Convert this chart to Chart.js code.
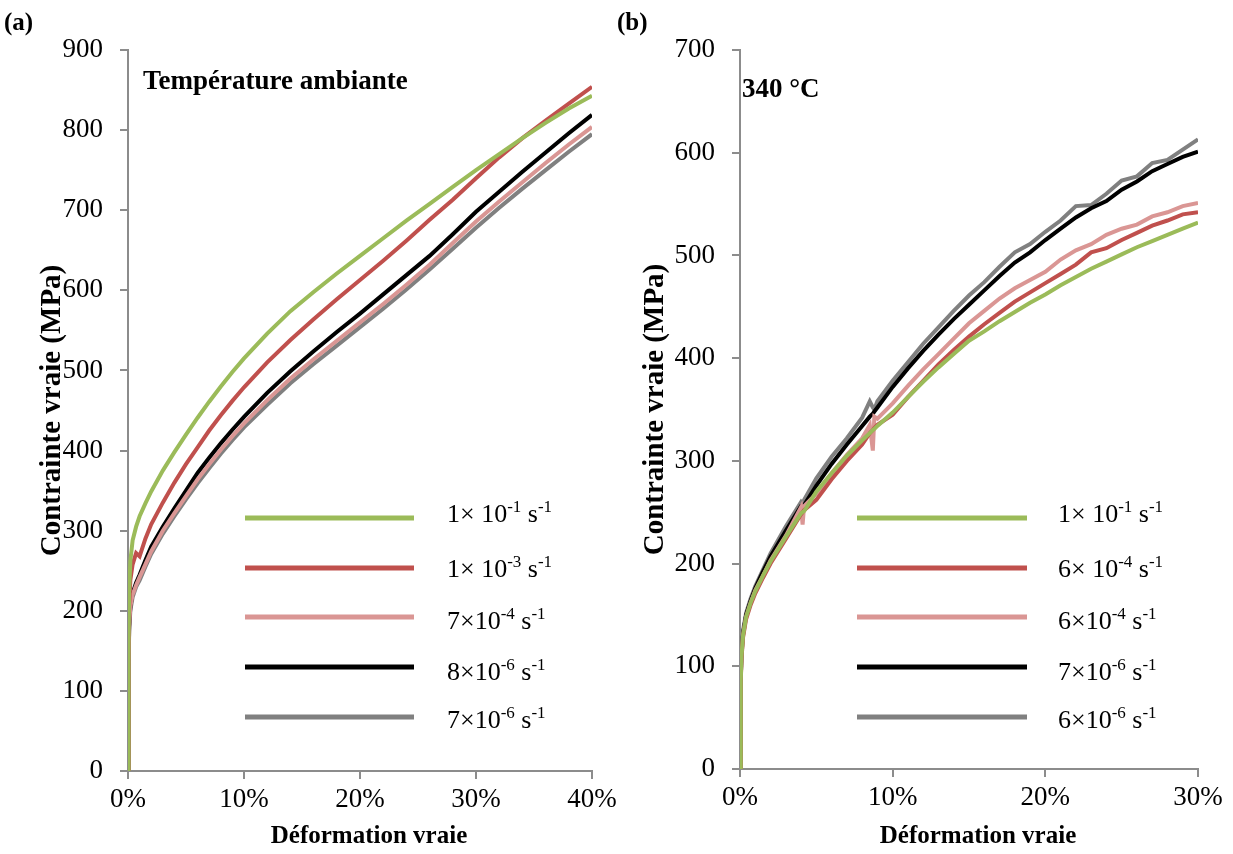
<!DOCTYPE html>
<html>
<head>
<meta charset="utf-8">
<script src="https://cdn.jsdelivr.net/npm/chart.js@4/dist/chart.umd.min.js"></script>
<style>
  body { margin: 0; background: #fff; width: 1233px; height: 854px; overflow: hidden; position: relative; }
  #leftChart { position: absolute; left: 0; top: 0; }
  #rightChart { position: absolute; left: 610px; top: 0; }
</style>
</head>
<body>
<canvas id="leftChart" width="630" height="854"></canvas>
<canvas id="rightChart" width="623" height="854"></canvas>
<script>
// ---- panel (a) : room temperature ----
const strainA = [0, 0.05, 0.1, 0.2, 0.4, 0.7, 1, 1.5, 2, 3, 4, 5, 6, 7, 8, 9, 10, 12, 14, 16, 18, 20, 22, 24, 26, 28, 30, 32, 34, 36, 38, 40];
const greenA = [0, 160, 225, 262, 288, 305, 318, 334, 349, 375, 398, 420, 441, 461, 480, 498, 515, 546, 574, 598, 621, 643, 665, 687, 708, 729, 750, 770, 790, 809, 827, 843];
const redA   = [0, 150, 205, 238, 258, 272, 268, 290, 308, 335, 360, 383, 404, 425, 444, 462, 479, 510, 538, 564, 589, 613, 637, 662, 688, 713, 740, 766, 790, 812, 833, 854];
const pinkA  = [0, 130, 180, 205, 220, 232, 242, 258, 274, 300, 322, 343, 364, 383, 401, 418, 434, 463, 490, 514, 537, 560, 583, 607, 632, 659, 686, 711, 735, 759, 782, 804];
const blackA = [0, 130, 180, 205, 222, 235, 245, 263, 280, 305, 328, 350, 372, 391, 409, 426, 442, 472, 499, 524, 548, 571, 595, 619, 643, 670, 698, 723, 748, 772, 796, 819];
const greyA  = [0, 125, 175, 200, 217, 230, 238, 255, 271, 296, 318, 339, 359, 378, 396, 413, 429, 457, 484, 508, 531, 554, 577, 601, 626, 652, 678, 703, 727, 750, 773, 795];
const labelsA = ['1× 10^{-1} s^{-1}', '1× 10^{-3} s^{-1}', '7×10^{-4} s^{-1}', '8×10^{-6} s^{-1}', '7×10^{-6} s^{-1}'];

// ---- panel (b) : 340 °C ----
const strainB = [0, 0.05, 0.1, 0.2, 0.4, 0.7, 1, 1.5, 2, 3, 4, 4.1, 4.2, 5, 6, 7, 8, 8.5, 8.7, 8.8, 9, 10, 11, 12, 13, 14, 15, 16, 17, 18, 19, 20, 21, 22, 23, 24, 25, 26, 27, 28, 29, 30];
const greenB = [0, 86, 110, 130, 148, 162, 173, 188, 202, 226, 249, 250, 251, 270, 288, 305, 320, 327, 330, 331, 334, 347, 362, 377, 391, 404, 417, 426, 436, 445, 454, 462, 471, 479, 487, 494, 501, 508, 514, 520, 526, 532];
const redB   = [0, 85, 108, 128, 146, 160, 171, 186, 200, 224, 248, 250, 252, 262, 282, 300, 316, 327, 330, 332, 335, 345, 362, 378, 394, 408, 421, 433, 444, 455, 464, 473, 482, 491, 503, 507, 515, 522, 529, 534, 540, 542];
const pinkB  = [0, 88, 110, 130, 148, 162, 174, 188, 203, 227, 255, 238, 256, 268, 288, 306, 322, 335, 310, 343, 341, 356, 373, 389, 404, 419, 434, 446, 458, 468, 476, 484, 496, 505, 511, 520, 526, 530, 538, 542, 548, 551];
const blackB = [0, 88, 112, 132, 150, 164, 176, 192, 207, 232, 256, 256, 257, 276, 297, 316, 334, 343, 346, 348, 352, 372, 390, 407, 423, 438, 452, 466, 480, 493, 503, 515, 526, 537, 546, 553, 564, 572, 582, 589, 596, 601];
const greyB  = [0, 90, 115, 135, 152, 166, 178, 194, 210, 236, 260, 258, 262, 283, 304, 322, 342, 358, 352, 350, 358, 378, 396, 414, 430, 446, 461, 474, 489, 503, 511, 523, 534, 548, 549, 560, 573, 577, 590, 593, 603, 613];
const labelsB = ['1× 10^{-1} s^{-1}', '6× 10^{-4} s^{-1}', '6×10^{-4} s^{-1}', '7×10^{-6} s^{-1}', '6×10^{-6} s^{-1}'];

const colours = ['#9BBB59', '#C0504D', '#DA9694', '#000000', '#808080'];
const serif = '"Liberation Serif", "Times New Roman", serif';
const axisGrey = '#8c8c8c';

function pairs(xs, ys) {
  return xs.map((x, i) => ({ x: x, y: ys[i] }));
}

function makeDatasets(xs, series, labels) {
  return series.map((ys, i) => ({
    label: labels[i],
    data: pairs(xs, ys),
    borderColor: colours[i],
    borderWidth: 4,
    pointRadius: 0,
    showLine: true,
    fill: false,
    tension: 0
  }));
}

// draws "10^{-1}" style text with superscripts
function drawRichText(ctx, text, x, y) {
  const parts = text.split(/(\^\{[^}]*\})/);
  ctx.textBaseline = 'alphabetic';
  ctx.textAlign = 'left';
  ctx.fillStyle = '#000';
  parts.forEach(p => {
    if (!p) return;
    if (p.startsWith('^{')) {
      const s = p.slice(2, -1);
      ctx.font = '17px ' + serif;
      ctx.fillText(s, x, y - 10);
      x += ctx.measureText(s).width;
    } else {
      ctx.font = '26px ' + serif;
      ctx.fillText(p, x, y);
      x += ctx.measureText(p).width;
    }
  });
}

function decorPlugin(cfg) {
  return {
    id: 'decor',
    afterDraw(chart) {
      const ctx = chart.ctx;
      const area = chart.chartArea;
      ctx.save();
      ctx.fillStyle = '#000';
      ctx.textBaseline = 'alphabetic';
      ctx.textAlign = 'left';
      ctx.font = 'bold 25px ' + serif;
      ctx.fillText(cfg.letter, cfg.letterX, 30);
      ctx.font = 'bold 27px ' + serif;
      ctx.fillText(cfg.title, cfg.titleX, cfg.titleY);
      // x axis title (sits a little right of the plot centre)
      ctx.textAlign = 'center';
      ctx.textBaseline = 'middle';
      ctx.font = 'bold 25px ' + serif;
      ctx.fillText('Déformation vraie', (area.left + area.right) / 2 + 9, 837);
      // legend
      const rows = [518, 568, 617, 667, 717];
      const textOff = [4, 9, 12, 13, 11];
      chart.data.datasets.forEach((ds, i) => {
        ctx.strokeStyle = ds.borderColor;
        ctx.lineWidth = 5;
        ctx.beginPath();
        ctx.moveTo(cfg.legX1, rows[i]);
        ctx.lineTo(cfg.legX2, rows[i]);
        ctx.stroke();
        drawRichText(ctx, ds.label, cfg.legText, rows[i] + textOff[i]);
      });
      ctx.restore();
    }
  };
}

function makeOptions(o) {
  return {
    responsive: false,
    animation: false,
    layout: { padding: { top: 50, right: o.padRight, bottom: 0, left: 0 } },
    plugins: { legend: { display: false }, tooltip: { enabled: false } },
    scales: {
      x: {
        type: 'linear',
        min: 0, max: o.xMax,
        afterFit: s => { s.height = o.xHeight; },
        grid: { drawOnChartArea: false, drawTicks: true, tickLength: 8, color: axisGrey, lineWidth: 2 },
        border: { display: true, color: axisGrey, width: 2 },
        ticks: { stepSize: 10, padding: 5, maxRotation: 0, color: '#000',
                 font: { family: serif, size: 27 }, callback: v => v + '%' },
        title: { display: false }
      },
      y: {
        min: 0, max: o.yMax,
        afterFit: s => { s.width = o.yWidth; },
        grid: { drawOnChartArea: false, drawTicks: true, tickLength: 8, color: axisGrey, lineWidth: 2 },
        border: { display: true, color: axisGrey, width: 2 },
        ticks: { stepSize: 100, padding: 17, color: '#000', font: { family: serif, size: 27 } },
        title: { display: true, text: 'Contrainte vraie (MPa)', color: '#000',
                 font: { family: serif, size: 29, weight: 'bold' }, padding: { top: o.yTitlePad, bottom: 0 } }
      }
    }
  };
}

new Chart(document.getElementById('leftChart'), {
  type: 'scatter',
  data: { datasets: makeDatasets(strainA, [greenA, redA, pinkA, blackA, greyA], labelsA) },
  options: makeOptions({ xMax: 40, yMax: 900, padRight: 38, xHeight: 83, yWidth: 128, yTitlePad: 35 }),
  plugins: [decorPlugin({ letter: '(a)', letterX: 4, title: 'Température ambiante', titleX: 143, titleY: 89,
                          legX1: 245, legX2: 414, legText: 447 })]
});

new Chart(document.getElementById('rightChart'), {
  type: 'scatter',
  data: { datasets: makeDatasets(strainB, [greenB, redB, pinkB, blackB, greyB], labelsB) },
  options: makeOptions({ xMax: 30, yMax: 700, padRight: 35, xHeight: 85, yWidth: 130, yTitlePad: 28 }),
  plugins: [decorPlugin({ letter: '(b)', letterX: 7, title: '340 °C', titleX: 132, titleY: 97,
                          legX1: 247, legX2: 417, legText: 448 })]
});
</script>
</body>
</html>
